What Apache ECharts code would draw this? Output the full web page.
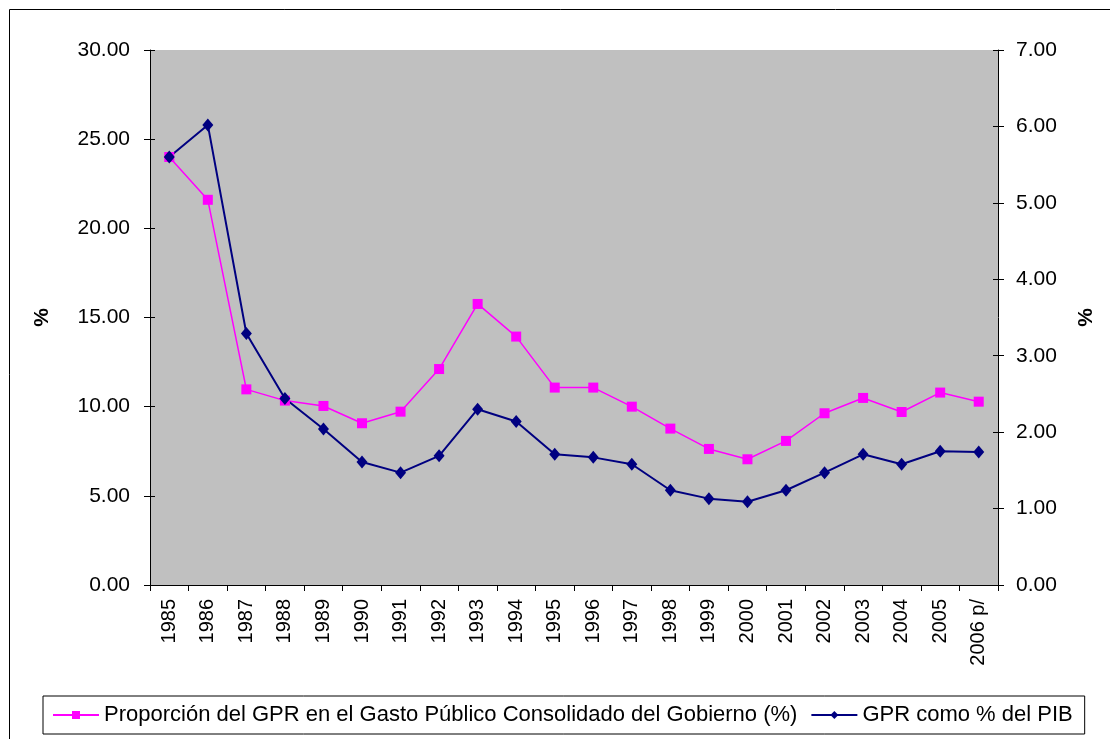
<!DOCTYPE html>
<html><head><meta charset="utf-8">
<script src="https://cdn.jsdelivr.net/npm/echarts@6/dist/echarts.min.js"></script>
<style>html,body{margin:0;padding:0;background:#fff}#c{width:1110px;height:739px}</style>
</head><body><div id="c"></div>
<script>
const categories = ['1985','1986','1987','1988','1989','1990','1991','1992','1993','1994','1995','1996','1997','1998','1999','2000','2001','2002','2003','2004','2005','2006 p/'];
const proporcionGPR = [24.0,21.6,10.97,10.34,10.04,9.07,9.72,12.11,15.76,13.93,11.07,11.07,10.0,8.77,7.63,7.05,8.08,9.63,10.49,9.70,10.79,10.28];
const gprPIB = [5.6,6.02,3.29,2.44,2.04,1.61,1.47,1.69,2.30,2.14,1.71,1.67,1.58,1.24,1.13,1.09,1.24,1.47,1.71,1.58,1.75,1.74];
const seriesNames = ['Proporción del GPR en el Gasto Público Consolidado del Gobierno (%)','GPR como % del PIB'];

const font = 'Liberation Sans, Arial, sans-serif';
const FS = 21;
const chart = echarts.init(document.getElementById('c'), null, {renderer:'canvas'});
const axisLine = {show:true, lineStyle:{color:'#000', width:1}};
const tickStyle = {color:'#000', width:1};
chart.setOption({
  animation:false,
  backgroundColor:'#fff',
  graphic:[{type:'rect', shape:{x:9.5,y:9.5,width:1120,height:760}, style:{fill:'none',stroke:'#000',lineWidth:1}, z:-1}],
  grid:{left:150,right:112,top:50,bottom:154,show:true,backgroundColor:'#c0c0c0',borderWidth:0},
  legend:{
    top:696, left:43,
    borderColor:'#000', borderWidth:1, padding:[8,12,8,9],
    itemGap:13, itemWidth:46, itemHeight:10,
    textStyle:{fontFamily:font,fontSize:22,color:'#000'},
    data:[{name:seriesNames[0]},{name:seriesNames[1]}]
  },
  xAxis:{
    type:'category', data:categories, boundaryGap:true,
    axisLine:axisLine,
    axisTick:{show:true, inside:false, length:6, lineStyle:tickStyle},
    axisLabel:{rotate:90, fontFamily:font, fontSize:20, color:'#000', margin:14},
    splitLine:{show:false}
  },
  yAxis:[
    {type:'value', min:0, max:30, interval:5, position:'left',
     name:'%', nameLocation:'middle', nameGap:97, nameRotate:90,
     nameTextStyle:{fontFamily:font,fontSize:FS,fontWeight:'bold',color:'#000'},
     axisLine:axisLine, axisTick:{show:true,length:6,lineStyle:tickStyle},
     axisLabel:{formatter:v=>v.toFixed(2), fontFamily:font, fontSize:FS, color:'#000', margin:20},
     splitLine:{show:false}},
    {type:'value', min:0, max:7, interval:1, position:'right',
     name:'%', nameLocation:'middle', nameGap:78, nameRotate:90,
     nameTextStyle:{fontFamily:font,fontSize:FS,fontWeight:'bold',color:'#000'},
     axisLine:axisLine, axisTick:{show:true,length:6,lineStyle:tickStyle},
     axisLabel:{formatter:v=>v.toFixed(2), fontFamily:font, fontSize:FS, color:'#000', margin:18},
     splitLine:{show:false}},
    {type:'value', min:0, max:30, interval:5, position:'left',
     axisLine:{show:false}, axisTick:{show:true,inside:true,length:5,lineStyle:tickStyle},
     axisLabel:{show:false}, splitLine:{show:false}},
    {type:'value', min:0, max:7, interval:1, position:'right',
     axisLine:{show:false}, axisTick:{show:true,inside:true,length:5,lineStyle:tickStyle},
     axisLabel:{show:false}, splitLine:{show:false}}
  ],
  series:[
    {name:seriesNames[0], type:'line', yAxisIndex:0, data:proporcionGPR,
     symbol:'rect', symbolSize:10, showAllSymbol:true,
     lineStyle:{color:'#ff00ff', width:1.5}, itemStyle:{color:'#ff00ff'}},
    {name:seriesNames[1], type:'line', yAxisIndex:1, data:gprPIB,
     symbol:'diamond', symbolSize:[11,13], showAllSymbol:true,
     lineStyle:{color:'#000080', width:2}, itemStyle:{color:'#000080'}}
  ]
});
</script></body></html>
